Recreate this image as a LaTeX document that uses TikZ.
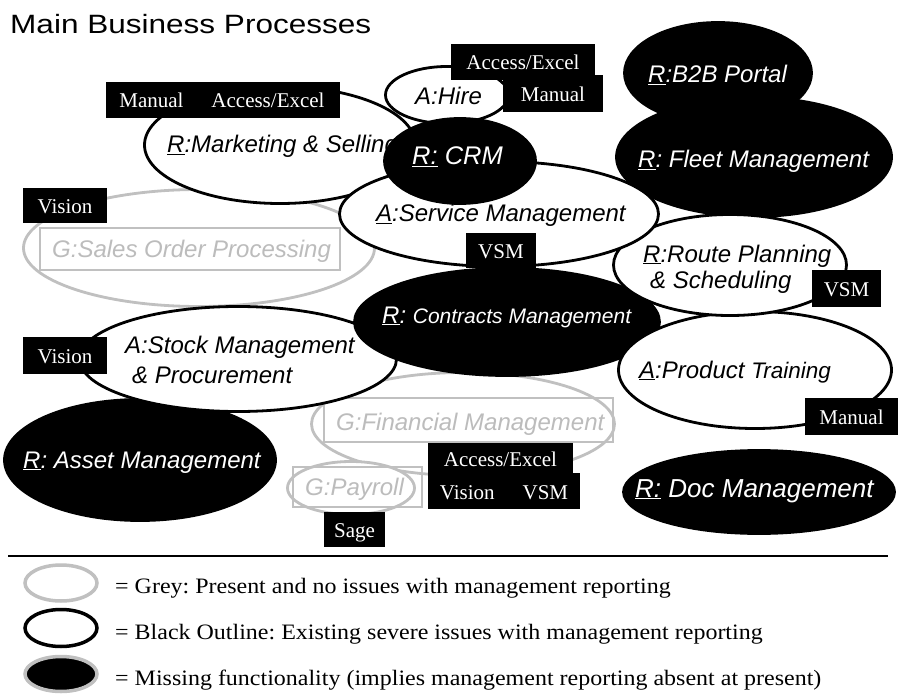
\documentclass[tikz,border=0pt]{standalone}
\usepackage{fontspec}
\setmainfont{Liberation Serif}
\setsansfont{Liberation Sans}
\usetikzlibrary{shapes.geometric}
\frenchspacing
\definecolor{lgrey}{RGB}{192,192,192}
\definecolor{gtext}{RGB}{188,188,188}
\tikzset{
  ell/.style={ellipse, inner sep=0pt, line width=2.8pt},
  wEll/.style={ell, draw=black, fill=white},
  bEll/.style={ell, draw=black, fill=black},
  gEll/.style={ell, draw=lgrey, fill=white},
  lbl/.style={anchor=base west, inner sep=0pt, font=\sffamily\itshape\fontsize{24}{28}\selectfont},
  wlbl/.style={lbl, text=white},
  glbl/.style={lbl, text=gtext},
  grect/.style={draw=lgrey, line width=2pt, inner sep=0pt},
  tagbox/.style={fill=black, text=white, inner sep=0pt, text height=16pt, text depth=0pt, font=\fontsize{21}{24}\selectfont},
  legtext/.style={anchor=base west, inner sep=0pt, font=\fontsize{22}{26}\selectfont},
}
\begin{document}
\begin{tikzpicture}[x=1pt,y=-1pt]
\useasboundingbox (0,0) rectangle (902,695);
\fill[white] (0,0) rectangle (902,695);

\node[anchor=base west, inner sep=0pt, font=\sffamily] (title) at (10,34)
  {\scalebox{1.19}[1]{\fontsize{26.5}{30}\selectfont Main Business Processes}};

% grey ellipses
\node[gEll, minimum width=351pt, minimum height=117pt] (sales) at (199,248) {};
\node[grect, minimum width=300pt, minimum height=42pt] (salesr) at (190,249) {};
\node[glbl] (salest) at (52,257) {G:Sales Order Processing};

\node[gEll, minimum width=303pt, minimum height=103pt] (fin) at (463,424) {};
\node[grect, minimum width=289pt, minimum height=44pt] (finr) at (468.5,420) {};
\node[glbl] (fint) at (336,430) {G:Financial Management};

\node[gEll, minimum width=127pt, minimum height=53pt] (pay) at (351,488) {};
\node[grect, minimum width=129pt, minimum height=40pt] (payr) at (357.5,487) {};
\node[glbl] (payt) at (305,495) {G:Payroll};

% lower left
\node[bEll, minimum width=271pt, minimum height=121pt] (asset) at (140,460) {};
\node[wlbl] (assett) at (23,468) {\underline{R}: Asset Management};

\node[wEll, minimum width=317pt, minimum height=105pt] (stock) at (238,359) {};
\node[lbl] (stockt1) at (125,353) {A:Stock Management};
\node[lbl] (stockt2) at (132,383) {\& Procurement};

\node[bEll, minimum width=305pt, minimum height=107pt] (contr) at (507,322) {};
\node[wlbl] (contrt) at (382,323) {\underline{R}: {\fontsize{21}{24}\selectfont Contracts Management}};

\node[wEll, minimum width=273pt, minimum height=117pt] (prod) at (755,370) {};
\node[lbl] (prodt) at (639,378) {\underline{A}:Product {\fontsize{22.5}{26}\selectfont Training}};

% upper right
\node[bEll, minimum width=187pt, minimum height=101pt] (b2b) at (718,73) {};
\node[wlbl] (b2bt) at (648,83) {\underline{R}:B2B Portal};

\node[bEll, minimum width=275pt, minimum height=119pt] (fleet) at (754,157) {};
\node[wlbl] (fleett) at (638,168) {\underline{R}: Fleet Management};

\node[wEll, minimum width=233pt, minimum height=101pt] (route) at (730,265) {};
\node[lbl] (routet1) at (643,262) {\underline{R}:Route Planning};
\node[lbl] (routet2) at (650,288) {\& Scheduling};

% upper middle
\node[wEll, minimum width=271pt, minimum height=117pt] (mkt) at (280,145) {};
\node[lbl] (mktt) at (167,153) {\underline{R}:Marketing \& Selling};

\node[wEll, minimum width=123pt, minimum height=57pt] (hire) at (447,95) {};
\node[lbl] (hiret) at (415,105) {A:Hire};

\node[wEll, minimum width=319pt, minimum height=105pt] (serv) at (499,214) {};
\node[lbl] (servt) at (376,222) {\underline{A}:Service Management};

\node[bEll, minimum width=151pt, minimum height=85pt] (crm) at (460,161) {};
\node[wlbl, font=\sffamily\itshape\fontsize{25.5}{30}\selectfont] (crmt) at (412,165) {\underline{R:} CRM};

\node[bEll, minimum width=271pt, minimum height=83pt] (doc) at (759,492) {};
\node[wlbl, font=\sffamily\itshape\fontsize{26}{30}\selectfont] (doct) at (635,497) {\underline{R:} Doc Management};

% tags
\node[tagbox, minimum width=91pt, minimum height=36pt] (tMktMan) at (151.5,100) {Manual};
\node[tagbox, minimum width=144pt, minimum height=36pt] (tMktAcc) at (268,100) {Access/Excel};
\node[tagbox, minimum width=144pt, minimum height=36pt] (tHireAcc) at (523,62) {Access/Excel};
\node[tagbox, minimum width=100pt, minimum height=37pt] (tHireMan) at (553,93.5) {Manual};
\node[tagbox, minimum width=84pt, minimum height=35pt] (tSalesVis) at (65,205.5) {Vision};
\node[tagbox, minimum width=70pt, minimum height=35pt] (tServVSM) at (501,250.5) {VSM};
\node[tagbox, minimum width=69pt, minimum height=37pt] (tRouteVSM) at (846.5,288.5) {VSM};
\node[tagbox, minimum width=84pt, minimum height=37pt] (tStockVis) at (65,355.5) {Vision};
\node[tagbox, minimum width=93pt, minimum height=37pt] (tProdMan) at (851.5,416.5) {Manual};
\node[tagbox, minimum width=145pt, minimum height=30pt] (tFinAcc) at (500.5,458) {Access/Excel};
\node[tagbox, minimum width=152pt, minimum height=36pt] (tFinVV) at (504,491) {Vision\hspace{28pt}VSM};
\node[tagbox, minimum width=61pt, minimum height=35pt] (tPaySage) at (354.5,529.5) {Sage};

% legend
\coordinate (lineL) at (8,556);
\coordinate (lineR) at (888,556);
\draw[line width=2.5pt] (lineL) -- (lineR);

\node[ellipse, inner sep=0pt, draw=lgrey, fill=white, line width=3.5pt, minimum width=72pt, minimum height=36pt] (legG) at (61,583) {};
\node[ellipse, inner sep=0pt, draw=black, fill=white, line width=3.5pt, minimum width=72pt, minimum height=37pt] (legB) at (61,628) {};
\node[ellipse, inner sep=0pt, draw=lgrey, fill=black, line width=3.5pt, minimum width=72pt, minimum height=35pt] (legF) at (61,674) {};

\node[legtext] (legGt) at (115,593) {\scalebox{1.09}[1]{= Grey: Present and no issues with management reporting}};
\node[legtext] (legBt) at (115,639) {\scalebox{1.09}[1]{= Black Outline: Existing severe issues with management reporting}};
\node[legtext] (legFt) at (115,685) {\scalebox{1.09}[1]{= Missing functionality (implies management reporting absent at present)}};
\end{tikzpicture}
\end{document}
